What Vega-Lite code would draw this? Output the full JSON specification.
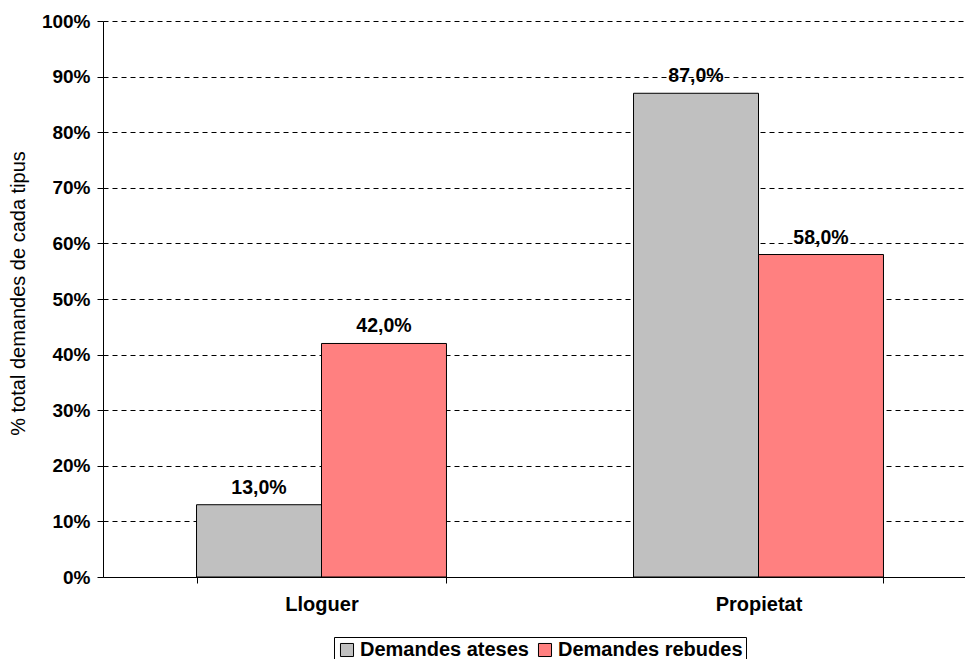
{
  "$schema": "https://vega.github.io/schema/vega-lite/v6.json",
  "width": 862,
  "height": 556,
  "autosize": "none",
  "padding": {"left": 103, "top": 21, "right": 0, "bottom": 82},
  "background": "white",
  "config": {
    "locale": {"number": {"decimal": ",", "thousands": ".", "grouping": [3], "currency": ["", " €"]}},
    "view": {"stroke": null},
    "font": "Liberation Sans"
  },
  "data": {"values": [
    {"tipus": "Lloguer", "serie": "Demandes ateses", "valor": 0.13},
    {"tipus": "Lloguer", "serie": "Demandes rebudes", "valor": 0.42},
    {"tipus": "Propietat", "serie": "Demandes ateses", "valor": 0.87},
    {"tipus": "Propietat", "serie": "Demandes rebudes", "valor": 0.58}
  ]},
  "encoding": {
    "x": {"field": "tipus", "type": "nominal", "sort": ["Lloguer", "Propietat"],
      "scale": {"range": [0, 874], "paddingInner": 0.428, "paddingOuter": 0.214},
      "axis": {"title": null, "labelAngle": 0, "labelFontWeight": "bold", "labelFontSize": 20, "labelColor": "black",
        "labelPadding": 11, "domainColor": "black", "tickColor": "black", "tickBand": "extent", "tickSize": 6, "grid": false}},
    "xOffset": {"field": "serie", "type": "nominal", "scale": {"paddingInner": 0, "paddingOuter": 0}},
    "y": {"field": "valor", "type": "quantitative",
      "scale": {"domain": [0, 1], "nice": false},
      "axis": {"format": ".0%", "values": [0, 0.1, 0.2, 0.3, 0.4, 0.5, 0.6, 0.7, 0.8, 0.9, 1],
        "title": "% total demandes de cada tipus", "titleFontWeight": "normal", "titleFontSize": 20, "titleColor": "black",
        "titleX": -85, "titleY": 272, "titleAngle": -90, "titleAlign": "center", "titleBaseline": "middle",
        "labelFontWeight": "bold", "labelFontSize": 19, "labelColor": "black", "labelPadding": 7,
        "domainColor": "black", "tickColor": "black", "tickSize": 6,
        "grid": true, "gridColor": "black", "gridDash": [5, 4], "gridWidth": 1}}
  },
  "layer": [
    {
      "mark": {"type": "bar", "stroke": "black", "strokeWidth": 1},
      "encoding": {
        "color": {"field": "serie", "type": "nominal",
          "scale": {"domain": ["Demandes ateses", "Demandes rebudes"], "range": ["#c0c0c0", "#ff8080"]},
          "legend": {"title": null, "orient": "none", "legendX": 231, "legendY": 616, "direction": "horizontal",
            "strokeColor": "black", "fillColor": "white", "padding": 3,
            "symbolType": "square", "symbolSize": 170, "symbolStrokeColor": "black", "symbolStrokeWidth": 1, "symbolOpacity": 1,
            "labelFontWeight": "bold", "labelFontSize": 20, "labelColor": "black", "labelOffset": 3, "labelLimit": 400, "columnPadding": 6}}
      }
    },
    {
      "mark": {"type": "text", "dy": -17, "fontWeight": "bold", "fontSize": 19.5, "color": "black"},
      "encoding": {"text": {"field": "valor", "type": "quantitative", "format": ".1%"}}
    }
  ]
}
